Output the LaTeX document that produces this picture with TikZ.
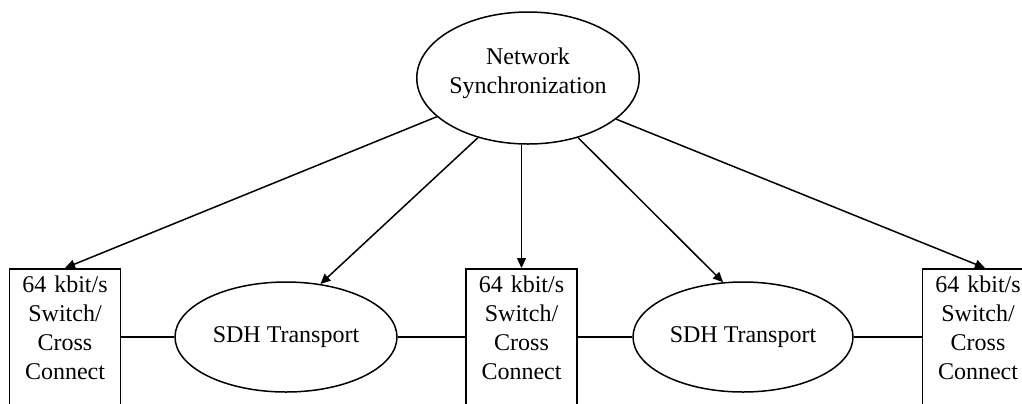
\documentclass[tikz,border=0pt]{standalone}
\usepackage{fontspec}
\setmainfont{Liberation Serif}
\usetikzlibrary{arrows.meta,shapes.geometric}
\begin{document}
\begin{tikzpicture}[x=0.5pt,y=-0.5pt,
  every node/.style={font=\fontsize{12}{14.5}\selectfont},
  link/.style={line width=0.75pt},
  arr/.style={link,-{Triangle[length=5pt,width=4.5pt]}},
  oval/.style={ellipse,draw,line width=0.75pt,inner sep=0pt,align=center},
  box/.style={rectangle,draw,line width=0.75pt,anchor=north,text width=55.5pt,inner xsep=0pt,inner ysep=3.5pt,align=center}]
\clip (0,0) rectangle (1022,403);
\node[oval,minimum width=104pt,minimum height=66pt,text depth=7.5pt] (ns) at (528,78) {Network\\Synchronization};
\node[oval,minimum width=111pt,minimum height=55pt] (sdh1) at (286,337) {SDH Transport};
\node[oval,minimum width=110pt,minimum height=55pt] (sdh2) at (743,337) {SDH Transport};
\node[box] (b1) at (65,268) {64 kbit/s\\Switch/\\Cross\\Connect\rule[-40pt]{0pt}{0pt}};
\node[box] (b2) at (521.5,268) {64 kbit/s\\Switch/\\Cross\\Connect\rule[-40pt]{0pt}{0pt}};
\node[box] (b3) at (978,268) {64 kbit/s\\Switch/\\Cross\\Connect\rule[-40pt]{0pt}{0pt}};
\draw[link] (b1.east |- sdh1.west) -- (sdh1.west);
\draw[link] (sdh1.east) -- (b2.west |- sdh1.east);
\draw[link] (b2.east |- sdh2.west) -- (sdh2.west);
\draw[link] (sdh2.east) -- (b3.west |- sdh2.east);
\draw[arr] (ns.203) -- (b1.north);
\draw[arr] (ns.230) -- (sdh1.57);
\draw[arr] (b2.north |- ns.south) -- (b2.north);
\draw[arr] (ns.310) -- (sdh2.110);
\draw[arr] (ns.335) -- ([xshift=3.5pt]b3.north);
\end{tikzpicture}
\end{document}
